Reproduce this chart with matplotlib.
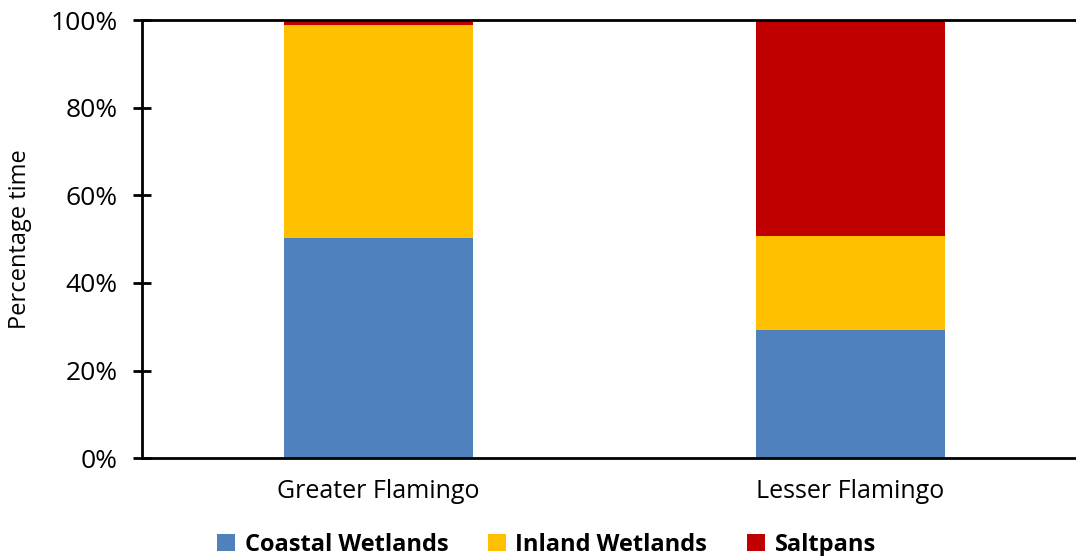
import matplotlib.pyplot as plt
import numpy as np

species = ["Greater Flamingo", "Lesser Flamingo"]
habitats = ["Coastal Wetlands", "Inland Wetlands", "Saltpans"]
coastal = [50.2, 29.3]
inland = [48.7, 21.5]
saltpans = [1.1, 49.2]

colors = ["#4f81bd", "#ffc000", "#c00000"]

plt.rcParams["font.family"] = ["Open Sans", "DejaVu Sans"]

fig = plt.figure(figsize=(10.76, 5.56), dpi=100)
ax = fig.add_axes([0.132, 0.176, 0.878, 0.788])

x = np.arange(len(species))
bottom = np.zeros(len(species))
for name, vals, c in zip(habitats, [coastal, inland, saltpans], colors):
    ax.bar(x, vals, 0.4, bottom=bottom, color=c, label=name)
    bottom += np.array(vals)

ax.set_xlim(-0.5, 1.5)
ax.set_ylim(0, 100)
ax.set_yticks(np.arange(0, 101, 20))
ax.set_yticklabels([f"{v}%" for v in range(0, 101, 20)], fontsize=19)
ax.set_xticks(x, species, fontsize=18)
ax.tick_params(axis="x", length=0, pad=15)
ax.tick_params(axis="y", direction="inout", length=13, width=2, pad=11)
ax.set_ylabel("Percentage time", fontsize=17)
ax.yaxis.set_label_coords(-0.116, 0.5)

ax.spines["right"].set_visible(False)
for s in ["left", "bottom", "top"]:
    ax.spines[s].set_linewidth(2)

fig.legend(loc="center", bbox_to_anchor=(0.508, 0.02), ncol=3, frameon=False,
           prop={"weight": "bold", "size": 17}, handlelength=0.75, handleheight=0.75,
           handletextpad=0.4, columnspacing=1.7)

plt.savefig("out.png", dpi=100)
